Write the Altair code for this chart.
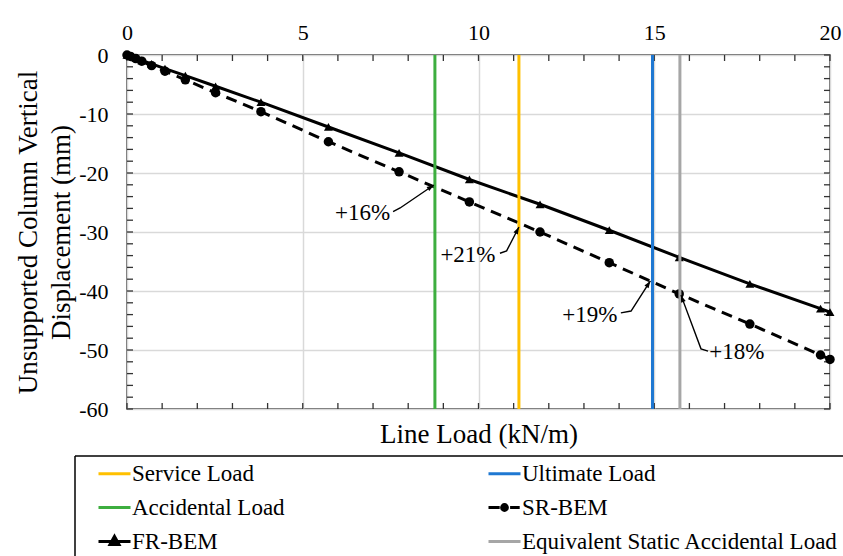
import altair as alt
import pandas as pd

# ---------------- data ----------------
load = [0, 0.1, 0.25, 0.42, 0.7, 1.08, 1.66, 2.52, 3.81, 5.73, 7.74, 9.74,
        11.75, 13.72, 15.71, 17.72, 19.73, 20.0]
fr_bem = [0, -0.2, -0.5, -0.9, -1.5, -2.3, -3.5, -5.3, -8.0, -12.2, -16.6,
          -21.1, -25.3, -29.7, -34.3, -38.8, -43.0, -43.6]
sr_bem = [0, -0.25, -0.6, -1.05, -1.8, -2.75, -4.2, -6.4, -9.6, -14.7, -19.8,
          -24.9, -30.0, -35.2, -40.5, -45.6, -50.85, -51.6]

load_names = ["Accidental Load", "Service Load", "Ultimate Load",
              "Equivalent Static Accidental Load"]
load_values = [8.76, 11.15, 14.95, 15.73]
load_colors = ["#3DAE3F", "#FFC000", "#1F78D2", "#A6A6A6"]

# legend entries (filled column by column: left column, then right column)
legend_order = ["Service Load", "Accidental Load", "FR-BEM",
                "Ultimate Load", "SR-BEM", "Equivalent Static Accidental Load"]
legend_colors = ["#FFC000", "#3DAE3F", "black", "#1F78D2", "black", "#A6A6A6"]

ann_text = ["+16%", "+21%", "+19%", "+18%"]
ann_text_x = [6.70, 9.70, 13.17, 17.35]
ann_text_y = [-26.8, -33.9, -44.07, -50.3]
ann_lead_x = [[7.57, 7.77, 8.73], [10.61, 10.80, 11.15],
              [14.05, 14.34, 14.89], [16.53, 16.33, 15.76]]
ann_lead_y = [[-26.56, -25.93, -22.03], [-33.6, -33.2, -29.15],
              [-43.7, -43.4, -38.3], [-50.2, -49.8, -40.7]]
ann_arrow_angle = [56, 27, 33, 340]

x_major = [0, 5, 10, 15, 20]
y_major = [0, -10, -20, -30, -40, -50, -60]
x_minor = list(range(0, 21))
y_minor = list(range(0, -61, -2))

# ---------------- style ----------------
FONT = "Liberation Serif, Times New Roman, Times, serif"
W, H = 703, 354
xs = alt.Scale(domain=[0, 20], nice=False, zero=False)
ys = alt.Scale(domain=[-60, 0], nice=False, zero=False)

LINE_PATH = "M-1,0H1"
SR_PATH = ("M-1,0H-0.3M0.35,0H0.95"
           "M0.18,0A0.18,0.18,0,1,1,-0.18,0A0.18,0.18,0,1,1,0.18,0Z")
FR_PATH = "M-1,0H1M0,-0.32L0.28,0.18L-0.28,0.18Z"
legend_paths = [LINE_PATH, LINE_PATH, FR_PATH, LINE_PATH, SR_PATH, LINE_PATH]
ARROW_PATH = "M0,0L-0.45,1.3L0.45,1.3Z"


def X(field, axis=None):
    return alt.X(field, type="quantitative", scale=xs, axis=axis)


def Y(field, axis=None):
    return alt.Y(field, type="quantitative", scale=ys, axis=axis)


top_axis = alt.Axis(orient="top", values=x_major, title=None, grid=True,
                    gridColor="#D9D9D9", gridWidth=1.5, domain=False,
                    ticks=False, tickSize=0, labelFont=FONT, labelFontSize=22,
                    labelColor="black", labelPadding=11, labelFlush=False)
bottom_axis = alt.Axis(orient="bottom", labels=False, ticks=False, tickSize=0,
                       domain=False, grid=False, title="Line Load (kN/m)",
                       titleFont=FONT, titleFontSize=27, titleFontWeight="normal",
                       titleColor="black", titlePadding=12)
left_axis = alt.Axis(orient="left", values=y_major, grid=True,
                     gridColor="#D9D9D9", gridWidth=1.5, domain=False,
                     ticks=False, tickSize=0, labelFont=FONT, labelFontSize=22,
                     labelColor="black", labelPadding=19,
                     labelExpr="'' + datum.value",
                     title=["Unsupported Column Vertical", "Displacement (mm)"],
                     titleFont=FONT, titleFontSize=27, titleFontWeight="normal",
                     titleColor="black", titleLineHeight=33, titleX=-99,
                     titleY=H / 2, titleBaseline="middle", titleAlign="center")

# ---------------- tables ----------------
df_fr = pd.DataFrame({"load": load, "disp": fr_bem})
df_sr = pd.DataFrame({"load": load, "disp": sr_bem})
df_loads = pd.DataFrame({"name": load_names, "value": load_values,
                         "color": load_colors})
df_xt = pd.DataFrame({"x": x_minor})
df_yt = pd.DataFrame({"y": y_minor})
df_text = pd.DataFrame({"t": ann_text, "x": ann_text_x, "y": ann_text_y})
lead_rows = []
for g, (lx, ly) in enumerate(zip(ann_lead_x, ann_lead_y)):
    for k, (a, b) in enumerate(zip(lx, ly)):
        lead_rows.append({"g": g, "k": k, "x": a, "y": b})
df_lead = pd.DataFrame(lead_rows)
df_tip = pd.DataFrame({"x": [lx[-1] for lx in ann_lead_x],
                       "y": [ly[-1] for ly in ann_lead_y],
                       "ang": ann_arrow_angle})
df_leg = pd.DataFrame({"series": legend_order})
df_one = pd.DataFrame({"a": [0]})

# ---------------- layers ----------------
TICK = "#333333"
top_ticks = alt.Chart(df_xt).mark_rule(color=TICK, strokeWidth=1.3).encode(
    x=X("x", top_axis), y=alt.value(0), y2=alt.value(6))
bot_ticks = alt.Chart(df_xt).mark_rule(color=TICK, strokeWidth=1.3).encode(
    x=X("x", bottom_axis), y=alt.value(H), y2=alt.value(H - 6))
left_ticks = alt.Chart(df_yt).mark_rule(color=TICK, strokeWidth=1.3).encode(
    y=Y("y", left_axis), x=alt.value(0), x2=alt.value(6))
right_ticks = alt.Chart(df_yt).mark_rule(color=TICK, strokeWidth=1.3).encode(
    y=Y("y"), x=alt.value(W), x2=alt.value(W - 6))

fr_line = alt.Chart(df_fr).mark_line(color="black", strokeWidth=3).encode(
    x=X("load"), y=Y("disp"))
fr_pts = alt.Chart(df_fr).mark_point(shape="triangle-up", filled=True,
                                     color="black", size=80, opacity=1).encode(
    x=X("load"), y=Y("disp"))
sr_line = alt.Chart(df_sr).mark_line(color="black", strokeWidth=3,
                                     strokeDash=[11, 7]).encode(
    x=X("load"), y=Y("disp"))
sr_pts = alt.Chart(df_sr).mark_point(shape="circle", filled=True,
                                     color="black", size=90, opacity=1).encode(
    x=X("load"), y=Y("disp"))

vlines = alt.Chart(df_loads).mark_rule(strokeWidth=3).encode(
    x=X("value"), color=alt.Color("color:N", scale=None))

leaders = alt.Chart(df_lead).mark_line(color="black", strokeWidth=1.4).encode(
    x=X("x"), y=Y("y"), detail="g:N", order="k:Q")
tips = alt.Chart(df_tip).mark_point(shape=ARROW_PATH, filled=True,
                                    color="black", size=120, opacity=1).encode(
    x=X("x"), y=Y("y"), angle=alt.Angle("ang:Q", scale=None))
texts = alt.Chart(df_text).mark_text(font=FONT, fontSize=23,
                                     color="black").encode(
    x=X("x"), y=Y("y"), text="t:N")

leg = alt.Legend(title=None, orient="none", legendX=-30, legendY=401,
                 columns=2, columnPadding=197, rowPadding=4, symbolSize=1024,
                 symbolStrokeWidth=3, symbolOpacity=1, labelFont=FONT,
                 labelFontSize=23, labelColor="black", labelLimit=600,
                 labelOffset=0, padding=0)
legend_layer = alt.Chart(df_leg).mark_point(filled=True, opacity=0).encode(
    color=alt.Color("series:N", scale=alt.Scale(domain=legend_order,
                                                range=legend_colors), legend=leg),
    stroke=alt.Stroke("series:N", scale=alt.Scale(domain=legend_order,
                                                  range=legend_colors), legend=leg),
    shape=alt.Shape("series:N", scale=alt.Scale(domain=legend_order,
                                                range=legend_paths), legend=leg),
)

box_top = alt.Chart(df_one).mark_rule(color="black", strokeWidth=1.5).encode(
    x=alt.value(-52), x2=alt.value(W + 20), y=alt.value(401))
box_left = alt.Chart(df_one).mark_rule(color="black", strokeWidth=1.5).encode(
    x=alt.value(-52), y=alt.value(401), y2=alt.value(520))

chart = alt.layer(
    top_ticks, bot_ticks, left_ticks, right_ticks,
    fr_line, sr_line, fr_pts, sr_pts, vlines,
    leaders, tips, texts, legend_layer, box_top, box_left,
).resolve_axis(x="independent", y="independent").properties(
    width=W, height=H, autosize="none",
    padding={"left": 127, "top": 55, "right": 13, "bottom": 147},
    background="white",
).configure_view(stroke="#333333", strokeWidth=1.5)

chart.save("out.html", embed_options={"renderer": "svg", "actions": False})
